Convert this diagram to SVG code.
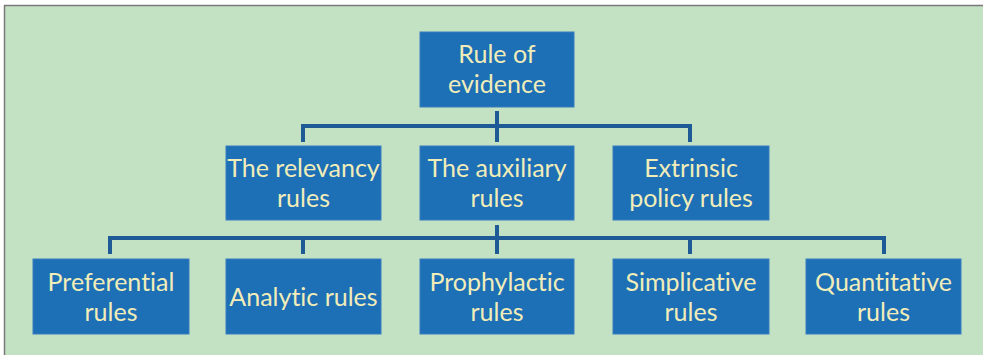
<svg xmlns="http://www.w3.org/2000/svg" width="983" height="355" viewBox="0 0 983 355">
<style>
.box{fill:#1D6FB6;stroke:#3A7FBE;stroke-width:1}
.t{font-family:Lato,"Open Sans","DejaVu Sans",sans-serif;font-size:25px;fill:#F1EDB9;text-anchor:middle;font-variant-ligatures:none}
.c{stroke:#1E5A96;stroke-width:4;fill:none;stroke-linecap:butt}
</style>
<rect x="0" y="0" width="983" height="355" fill="#FFFFFF"/>
<rect x="5" y="6" width="978" height="349" fill="#C3E1C3"/>
<line x1="4.5" y1="5.5" x2="4.5" y2="355" stroke="#7A7A7A" stroke-width="1.5"/>
<line x1="4" y1="5.5" x2="983" y2="5.5" stroke="#7A7A7A" stroke-width="1.5"/>
<g id="connectors">
<path class="c" d="M497 111V126M303 142V126H690V142M497 126V142"/>
<path class="c" d="M497 225V238M110 254V238H884V254M303 238V254M497 238V254M690 238V254"/>
</g>
<g id="root"><rect class="box" x="420" y="32" width="154" height="75"/><text class="t" x="497" y="63">Rule of</text><text class="t" x="497" y="93">evidence</text></g>
<g id="relevancy"><rect class="box" x="226" y="146" width="155" height="74"/><text class="t" x="303.5" y="177">The relevancy</text><text class="t" x="303.5" y="207">rules</text></g>
<g id="auxiliary"><rect class="box" x="420" y="146" width="154" height="74"/><text class="t" x="497" y="177">The auxiliary</text><text class="t" x="497" y="207">rules</text></g>
<g id="extrinsic"><rect class="box" x="613" y="146" width="156" height="74"/><text class="t" x="691" y="177">Extrinsic</text><text class="t" x="691" y="207">policy rules</text></g>
<g id="preferential"><rect class="box" x="33" y="259" width="156" height="75"/><text class="t" x="111" y="291">Preferential</text><text class="t" x="111" y="321">rules</text></g>
<g id="analytic"><rect class="box" x="226" y="259" width="155" height="75"/><text class="t" x="303.5" y="306">Analytic rules</text></g>
<g id="prophylactic"><rect class="box" x="420" y="259" width="154" height="75"/><text class="t" x="497" y="291">Prophylactic</text><text class="t" x="497" y="321">rules</text></g>
<g id="simplicative"><rect class="box" x="613" y="259" width="156" height="75"/><text class="t" x="691" y="291">Simplicative</text><text class="t" x="691" y="321">rules</text></g>
<g id="quantitative"><rect class="box" x="806" y="259" width="155" height="75"/><text class="t" x="883.5" y="291">Quantitative</text><text class="t" x="883.5" y="321">rules</text></g>
</svg>
